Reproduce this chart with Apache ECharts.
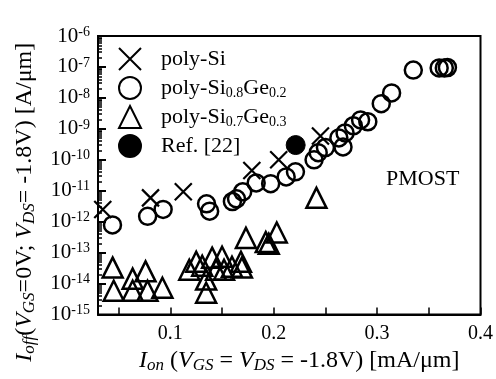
<!DOCTYPE html>
<html><head><meta charset="utf-8">
<script src="https://cdn.jsdelivr.net/npm/echarts@6/dist/echarts.min.js"></script>
<style>html,body{margin:0;padding:0;background:#fff}#c{width:496px;height:379px}</style>
</head><body><div id="c"></div>
<script>
// ---- data ----
const seriesNames = ['poly-Si', 'poly-Si0.8Ge0.2', 'poly-Si0.7Ge0.3', 'Ref. [22]'];

const polySiX = [0.0346, 0.0808, 0.1125, 0.1788, 0.2048, 0.2452];
const polySiY = [2.5e-12, 5.9e-12, 9.3e-12, 4.5e-11, 1.0e-10, 5.9e-10];

const sige82X = [0.044, 0.078, 0.093, 0.135, 0.138, 0.160, 0.164, 0.170, 0.183, 0.197, 0.212, 0.221,
                 0.239, 0.243, 0.250, 0.267, 0.263, 0.269, 0.277, 0.284, 0.291, 0.304, 0.314, 0.335,
                 0.360, 0.365, 0.368];
const sige82Y = [7.9e-13, 1.5e-12, 2.5e-12, 3.8e-12, 2.2e-12, 4.5e-12, 5.5e-12, 9.3e-12, 1.8e-11, 1.7e-11, 2.8e-11, 4.1e-11,
                 1.0e-10, 1.7e-10, 2.5e-10, 2.6e-10, 5.1e-10, 7.4e-10, 1.26e-9, 1.95e-9, 1.7e-9, 6.5e-9, 1.45e-8, 7.9e-8,
                 9.3e-8, 9.3e-8, 9.6e-8];

const sige73X = [0.0442, 0.0452, 0.0635, 0.0635, 0.0760, 0.0779, 0.0923, 0.1183, 0.1250, 0.1308, 0.1346, 0.1346,
                 0.1404, 0.1442, 0.1500, 0.1519, 0.1596, 0.1683, 0.1692, 0.1731, 0.1923, 0.1952, 0.2029, 0.2413];
const sige73Y = [3.3e-14, 5.9e-15, 1.45e-14, 5.9e-15, 2.5e-14, 5.9e-15, 7.4e-15, 2.8e-14, 5.1e-14, 3.8e-14, 1.35e-14, 5.1e-15,
                 6.9e-14, 2.8e-14, 7.4e-14, 2.8e-14, 3.5e-14, 5.1e-14, 3.3e-14, 3.0e-13, 2.2e-13, 1.95e-13, 4.5e-13, 5.9e-12];

const refX = [0.2212];
const refY = [3.0e-10];

const xTickLabels = [0.1, 0.2, 0.3, 0.4];
const xTickMarks = [0.05, 0.1, 0.15, 0.2, 0.25, 0.3, 0.35, 0.4];
const yDecadeExps = [-15, -14, -13, -12, -11, -10, -9, -8, -7, -6];
const annotationText = 'PMOST';

// ---- build ----
const FONT = '"Liberation Serif", "Times New Roman", serif';
const yDecades = yDecadeExps.map(e => Math.pow(10, e));
const yMinor = [];
yDecadeExps.slice(0, -1).forEach(e => { for (let k = 2; k <= 9; k++) yMinor.push(k * Math.pow(10, e)); });

const zip = (xs, ys) => xs.map((x, i) => [x, ys[i]]);

const legendRich = {
  g: { width: 15, lineHeight: 24 },
  n: { fontFamily: FONT, fontSize: 22, color: '#000', lineHeight: 24 },
  s: { fontFamily: FONT, fontSize: 14, color: '#000', lineHeight: 13, verticalAlign: 'bottom' }
};
const legendLabels = {
  'poly-Si': '{g|}{n|poly-Si}',
  'poly-Si0.8Ge0.2': '{g|}{n|poly-Si}{s|0.8}{n|Ge}{s|0.2}',
  'poly-Si0.7Ge0.3': '{g|}{n|poly-Si}{s|0.7}{n|Ge}{s|0.3}',
  'Ref. [22]': '{g|}{n|Ref. [22]}'
};

const titleRich = {
  n: { fontFamily: FONT, fontSize: 24, color: '#000', lineHeight: 27 },
  i: { fontFamily: FONT, fontSize: 24, fontStyle: 'italic', color: '#000', lineHeight: 27 },
  is: { fontFamily: FONT, fontSize: 17, fontStyle: 'italic', color: '#000', lineHeight: 15, verticalAlign: 'bottom' }
};

const openStyle = { color: 'rgba(0,0,0,0)', borderColor: '#000', borderWidth: 2.5, opacity: 1 };

const chart = echarts.init(document.getElementById('c'), null, { renderer: 'canvas' });
chart.setOption({
  animation: false,
  backgroundColor: '#fff',
  grid: { left: 98, right: 13, top: 36, bottom: 64, show: true, borderColor: '#000', borderWidth: 2, backgroundColor: 'transparent' },
  legend: {
    orient: 'vertical', left: 113, top: 42, itemWidth: 22, itemHeight: 22, itemGap: 5,
    data: seriesNames,
    formatter: name => legendLabels[name],
    textStyle: { rich: legendRich },
    selectedMode: false
  },
  graphic: [{
    type: 'text', left: 386, top: 168,
    style: { text: annotationText, fontFamily: FONT, fontSize: 22, fill: '#000' }
  }],
  xAxis: {
    type: 'value', min: 0.03, max: 0.4,
    axisLine: { show: true, lineStyle: { color: '#000', width: 2 } },
    axisTick: { show: true, inside: true, length: 7, customValues: xTickMarks, lineStyle: { color: '#000', width: 1.5 } },
    axisLabel: { customValues: xTickLabels, fontFamily: FONT, fontSize: 20, color: '#000', margin: 9,
                 formatter: v => String(+v.toFixed(2)) },
    splitLine: { show: false },
    name: '{i|I}{is|on}{n| (}{i|V}{is|GS}{n| = }{i|V}{is|DS}{n| = -1.8V) [mA/\u03bcm]}',
    nameLocation: 'middle', nameGap: 29,
    nameTextStyle: { rich: titleRich, padding: [0, 0, 0, 20] }
  },
  yAxis: [{
    type: 'log', logBase: 10, min: 1e-15, max: 1e-6,
    axisLine: { show: true, lineStyle: { color: '#000', width: 2 } },
    axisTick: { show: true, inside: true, length: 8, customValues: yDecades, lineStyle: { color: '#000', width: 2 } },
    axisLabel: {
      customValues: yDecades, margin: 8,
      formatter: v => '{b|10}{s|' + Math.round(Math.log10(v)) + '}',
      rich: {
        b: { fontFamily: FONT, fontSize: 21, color: '#000', lineHeight: 22 },
        s: { fontFamily: FONT, fontSize: 14, color: '#000', lineHeight: 13, verticalAlign: 'top' }
      }
    },
    splitLine: { show: false },
    name: '{i|I}{is|off}{n|(}{i|V}{is|GS}{n|=0V; }{i|V}{is|DS}{n|= -1.8V) [A/\u03bcm]}',
    nameLocation: 'middle', nameRotate: 90, nameGap: 60,
    nameTextStyle: { rich: titleRich, padding: [0, 54, 0, 0] }
  }, {
    type: 'log', logBase: 10, min: 1e-15, max: 1e-6, position: 'left',
    axisLine: { show: false },
    axisTick: { show: true, inside: true, length: 4, customValues: yMinor, lineStyle: { color: '#000', width: 1.5 } },
    axisLabel: { show: false },
    splitLine: { show: false }
  }],
  series: [
    { name: seriesNames[0], type: 'scatter', data: zip(polySiX, polySiY),
      symbol: 'path://M0,0L10,10M10,0L0,10', symbolSize: 17,
      itemStyle: { color: '#000', borderColor: '#000', borderWidth: 2.2, opacity: 1 }, emphasis: { disabled: true } },
    { name: seriesNames[1], type: 'scatter', data: zip(sige82X, sige82Y),
      symbol: 'circle', symbolSize: 17, itemStyle: openStyle, emphasis: { disabled: true } },
    { name: seriesNames[2], type: 'scatter', data: zip(sige73X, sige73Y),
      symbol: 'triangle', symbolSize: 20, itemStyle: openStyle, emphasis: { disabled: true } },
    { name: seriesNames[3], type: 'scatter', data: zip(refX, refY),
      symbol: 'circle', symbolSize: 19, itemStyle: { color: '#000', borderColor: '#000', borderWidth: 1, opacity: 1 }, emphasis: { disabled: true } }
  ]
});
</script></body></html>
